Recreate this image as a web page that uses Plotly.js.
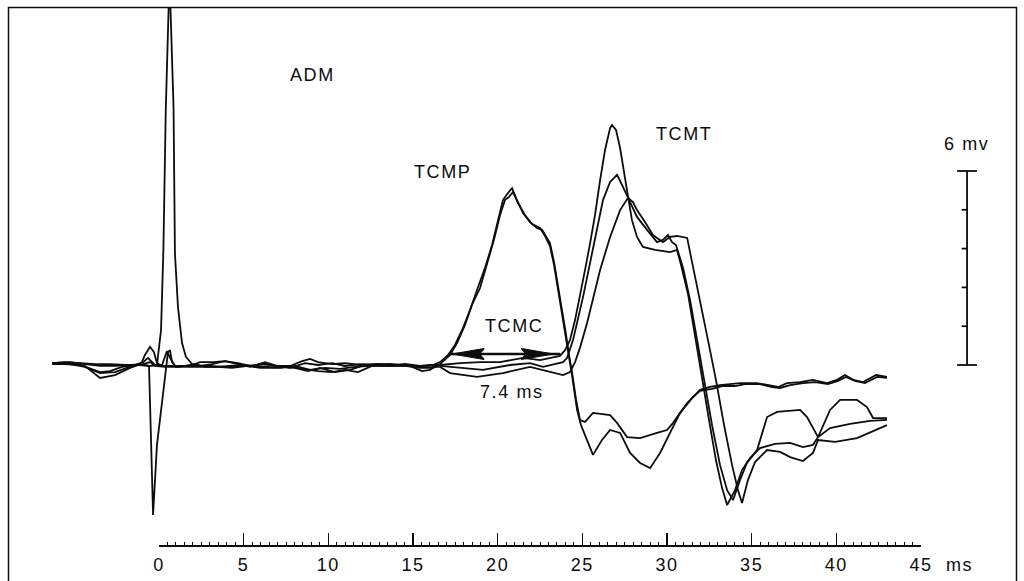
<!DOCTYPE html>
<html>
<head>
<meta charset="utf-8">
<script src="https://cdn.plot.ly/plotly-3.0.1.min.js"></script>
<style>
html,body{margin:0;padding:0;background:#fff;}
#chart{width:1024px;height:581px;}
svg text{letter-spacing:1.6px;}
</style>
</head>
<body>
<div id="chart"></div>
<script>
// ---- Data (ms, mV) ----
// TCMP traces (cervical stimulation), two superimposed recordings
const p1X = [-6.32,-5.55,-4.67,-3.78,-2.89,-2.01,-1.12,-0.53,-0.12,0.12,0.26,0.40,0.62,0.86,0.94,1.12,1.36,1.59,1.95,2.42,3.13,3.90,4.67,5.37,6.08,6.85,7.74,8.62,9.39,10.22,10.98,11.87,12.76,13.64,14.53,15.41,16.18,16.60,17.07,17.48,17.95,18.37,18.78,19.25,19.67,20.02,20.31,20.61,20.85,21.14,21.50,21.91,22.32,22.62,22.86,23.09,23.33,23.56,23.80,24.04,24.21,24.39,24.63,24.86,25.16,25.63,26.64,27.05,27.64,28.41,29.41,30.00,30.36,31.19,31.95,32.54,33.13,33.90,34.31,35.32,36.09,36.56,37.09,37.86,38.62,39.45,40.04,40.51,40.99,41.58,42.35,42.99];
const p1Y = [0.06,0.09,0.06,0.03,0.03,0,0,-0.03,0,1.08,3.56,7.89,12.0,7.95,3.46,1.79,0.68,0.25,0.03,-0.03,0.03,0.12,0.03,-0.06,0.06,-0.03,-0.09,0.06,0,0.06,-0.03,0.03,0,0.03,0,-0.06,0,0.09,0.31,0.62,1.14,1.70,2.32,3.00,3.71,4.48,5.10,5.32,5.47,5.10,4.70,4.42,4.24,4.18,3.99,3.77,3.18,2.47,1.70,0.93,0.31,-0.22,-1.08,-1.70,-1.76,-1.48,-1.55,-1.79,-2.23,-2.26,-2.10,-2.01,-1.79,-1.18,-0.77,-0.68,-0.62,-0.59,-0.56,-0.56,-0.62,-0.68,-0.56,-0.53,-0.46,-0.56,-0.46,-0.31,-0.46,-0.53,-0.31,-0.37];

const p2X = [-6.32,-5.55,-4.67,-3.96,-3.48,-2.89,-2.19,-1.42,-0.83,-0.59,-0.47,-0.35,-0.12,0.18,0.41,0.53,0.65,0.77,1.00,1.54,2.13,2.72,3.48,4.19,4.90,5.67,6.26,7.15,8.03,8.80,9.51,10.39,11.28,11.99,12.93,13.76,14.82,15.53,16.00,16.36,16.60,17.19,17.60,18.07,18.48,18.96,19.37,19.78,20.14,20.43,20.67,20.91,21.20,21.61,22.03,22.50,22.80,23.09,23.33,23.56,23.80,24.04,24.21,24.39,24.69,24.92,25.63,26.16,26.64,27.23,27.82,28.41,29.00,29.59,30.18,30.77,31.54,31.95,32.66,33.25,34.02,34.61,35.49,36.20,36.68,37.27,38.03,38.74,39.51,40.10,40.57,41.10,41.69,42.41,42.99];
const p2Y = [0.03,0.03,0,-0.12,-0.22,-0.19,-0.06,0,0,-0.03,-2.01,-4.64,-2.47,-1.08,-0.09,0.40,0.46,0.09,-0.06,-0.03,0.03,-0.06,-0.06,-0.03,0,-0.03,0.09,-0.06,-0.09,-0.19,-0.09,-0.22,-0.15,-0.03,0.03,-0.03,-0.03,-0.19,-0.15,-0.03,0.03,0.31,0.68,1.24,1.86,2.38,3.12,3.87,4.64,5.10,5.20,5.35,5.01,4.64,4.36,4.24,3.99,3.68,3.09,2.38,1.61,0.84,0.25,-0.31,-1.39,-1.86,-2.78,-2.32,-2.01,-2.10,-2.72,-3.03,-3.19,-2.72,-2.10,-1.48,-0.99,-0.80,-0.74,-0.65,-0.65,-0.59,-0.59,-0.68,-0.71,-0.62,-0.56,-0.53,-0.59,-0.49,-0.37,-0.49,-0.56,-0.37,-0.40];

// TCMT traces (cortical stimulation), three superimposed recordings
const t1X = [-6.32,-5.26,-4.37,-3.48,-2.60,-1.71,-1.06,-0.83,-0.53,-0.30,-0.12,0.18,0.94,1.83,2.42,3.19,3.90,4.67,5.37,6.08,6.85,7.74,8.45,8.92,9.39,10.22,10.98,11.87,12.76,13.64,14.53,15.41,16.00,16.60,17.78,18.96,20.14,21.50,22.50,23.27,23.68,23.98,24.27,24.57,24.86,25.16,25.46,25.75,26.05,26.34,26.64,26.75,26.99,27.23,27.52,27.70,27.93,28.23,28.58,29.29,30.18,30.59,30.83,31.25,31.66,32.07,32.48,32.89,33.25,33.55,34.02,34.43,34.90,35.49,36.38,37.27,38.03,38.62,38.92,39.63,40.81,41.99,42.99];
const t1Y = [0.06,0.06,-0.03,-0.40,-0.31,-0.09,0.03,0.31,0.56,0.40,0.06,-0.03,-0.03,-0.03,0.09,0.09,0.12,0.06,-0.03,0.03,-0.03,-0.03,0.12,0.19,0.09,0.03,0.06,0,0.03,0.03,-0.03,-0.03,0,0,0.06,0.09,0.09,0.22,0.15,0.25,0.28,0.46,0.77,1.39,2.10,2.94,3.77,4.64,5.72,6.65,7.33,7.42,7.27,6.71,5.78,5.17,4.48,3.96,3.65,3.56,3.49,3.56,3.09,2.17,0.93,-0.40,-1.70,-2.94,-3.80,-4.33,-3.87,-3.25,-2.88,-2.57,-2.44,-2.41,-2.54,-2.47,-2.23,-1.95,-1.82,-1.73,-1.70];

const t2X = [-6.32,-5.26,-4.37,-3.48,-2.60,-1.71,-0.94,-0.65,-0.41,-0.18,0.18,0.35,0.47,0.65,0.94,1.83,2.72,3.48,4.31,5.26,5.96,6.85,7.74,8.62,9.39,10.22,10.98,11.75,12.58,13.64,14.53,15.41,16.12,16.60,17.19,19.13,20.73,21.91,22.68,23.50,23.86,24.10,24.45,25.04,25.75,26.22,26.64,27.05,27.40,27.70,28.23,28.82,29.41,29.76,30.06,30.30,30.53,30.95,31.36,31.78,32.25,32.66,33.13,33.55,33.90,34.31,34.72,35.32,35.91,36.50,37.86,38.27,38.92,39.63,40.22,41.22,41.81,42.17,42.99];
const t2Y = [0.03,0.03,-0.06,-0.25,-0.22,-0.06,0.09,0.22,0.09,-0.03,0,0.28,0.43,0.22,-0.03,-0.06,-0.06,-0.06,-0.09,-0.03,-0.09,-0.09,-0.06,-0.12,-0.19,-0.22,-0.15,-0.22,-0.03,-0.03,-0.03,-0.09,-0.09,-0.03,-0.06,-0.15,0,0.06,-0.06,0.06,0.09,0.22,0.77,2.10,3.96,5.10,5.66,5.88,5.51,5.17,4.58,4.18,3.80,3.87,4.02,3.80,3.71,3.00,2.01,0.77,-0.62,-1.86,-3.09,-3.87,-4.18,-3.56,-3.03,-2.63,-1.61,-1.45,-1.39,-1.61,-2.23,-1.39,-1.08,-1.08,-1.30,-1.64,-1.64];

const t3X = [-6.32,-5.26,-4.37,-3.48,-2.60,-1.71,-0.94,-0.53,-0.24,0.35,1.24,2.13,3.01,3.90,4.78,5.67,6.38,7.15,8.03,8.92,9.80,10.69,11.57,12.46,13.64,14.53,15.41,16.12,16.60,17.19,18.78,20.31,21.91,23.09,23.86,24.27,24.57,24.86,25.28,26.05,26.64,27.23,27.70,27.99,28.23,28.70,29.17,29.76,30.18,30.59,31.19,31.48,31.95,32.42,32.89,33.37,33.84,34.19,34.43,34.78,35.20,35.91,36.68,37.27,38.03,38.62,38.92,39.93,41.22,42.35,42.99];
const t3Y = [0.06,0.09,0.03,-0.03,-0.03,0,0.03,0.09,-0.03,-0.06,-0.06,-0.03,-0.03,-0.06,-0.03,-0.03,-0.06,-0.09,-0.03,-0.15,-0.09,-0.12,-0.06,-0.03,-0.03,0.03,-0.03,-0.03,-0.06,-0.25,-0.37,-0.25,-0.06,-0.22,-0.31,-0.22,0.09,0.53,1.30,2.94,3.96,4.79,5.17,5.04,4.79,4.42,4.02,3.80,3.96,3.99,3.93,3.18,2.01,0.77,-0.46,-1.86,-3.09,-3.87,-4.27,-3.56,-3.00,-2.63,-2.69,-2.85,-2.97,-2.72,-2.32,-2.38,-2.26,-2.01,-1.86];

// Time axis ticks (ms)
const timeTicks = [0,5,10,15,20,25,30,35,40,45];
const timeTickLabels = ['0','5','10','15','20','25','30','35','40','45'];

// Calibration bar: 6 mV, subdivided in 5
const scaleBarX = 47.72;
const scaleBarMv = 6;
const scaleBarDivisions = 5;

// TCMC interval marker
const tcmcStart = 17.1;
const tcmcEnd = 23.7;
const tcmcLevel = 0.34;

// Labels: [text, x(ms), y(mV)]
const labelText = ['ADM','TCMP','TCMC','7.4 ms','TCMT','6 mv'];
const labelX = [9.09,16.77,20.96,20.85,31.0,47.66];
const labelY = [8.97,5.97,1.21,-0.84,7.15,6.84];

// ---- Build figure ----
const ink = '#0d0d0d';
const lineStyle = {color: ink, width: 1.8, shape: 'linear'};
function trace(x, y) {
  return {x: x, y: y, type: 'scatter', mode: 'lines', line: lineStyle, hoverinfo: 'skip', showlegend: false};
}
const traces = [trace(p1X,p1Y), trace(p2X,p2Y), trace(t1X,t1Y), trace(t2X,t2Y), trace(t3X,t3Y)];

// calibration bar segments
const capHalf = 0.59, subTick = 0.32;
const sbX = [scaleBarX, scaleBarX, null, scaleBarX-capHalf, scaleBarX+capHalf, null, scaleBarX-capHalf, scaleBarX+capHalf];
const sbY = [0, scaleBarMv, null, 0, 0, null, scaleBarMv, scaleBarMv];
for (let i = 1; i < scaleBarDivisions; i++) {
  const v = scaleBarMv * i / scaleBarDivisions;
  sbX.push(null, scaleBarX - subTick, scaleBarX);
  sbY.push(null, v, v);
}
traces.push({x: sbX, y: sbY, type:'scatter', mode:'lines', line:{color: ink, width: 1.8}, hoverinfo:'skip', showlegend:false, connectgaps:false});

// TCMC arrow line + heads
const headLen = 1.9, headHalf = 0.17;
traces.push({x:[tcmcStart, tcmcEnd], y:[tcmcLevel, tcmcLevel], type:'scatter', mode:'lines', line:{color: ink, width: 2.6}, hoverinfo:'skip', showlegend:false});
traces.push({x:[tcmcStart+0.2, tcmcStart+0.2+headLen, tcmcStart+0.2+headLen*0.85, tcmcStart+0.2+headLen, tcmcStart+0.2],
             y:[tcmcLevel, tcmcLevel+headHalf, tcmcLevel, tcmcLevel-headHalf, tcmcLevel],
             type:'scatter', mode:'lines', fill:'toself', fillcolor: ink, line:{color: ink, width: 1.2}, hoverinfo:'skip', showlegend:false});
traces.push({x:[tcmcEnd-0.4, tcmcEnd-0.4-headLen, tcmcEnd-0.4-headLen*0.85, tcmcEnd-0.4-headLen, tcmcEnd-0.4],
             y:[tcmcLevel, tcmcLevel+headHalf, tcmcLevel, tcmcLevel-headHalf, tcmcLevel],
             type:'scatter', mode:'lines', fill:'toself', fillcolor: ink, line:{color: ink, width: 1.2}, hoverinfo:'skip', showlegend:false});

// dummy trace for the time axis subplot
traces.push({x:[], y:[], xaxis:'x2', yaxis:'y2', type:'scatter', mode:'lines', showlegend:false, hoverinfo:'skip'});

const W = 1024, H = 581;
const pxPerMs = 762/45, pxPerMv = 194/6;
const x0px = 159, y0px = 365;
const leftPx = 9, rightPx = 1016, topPx = 8;
const font = 'Liberation Sans, Arial, Helvetica, sans-serif';

const annotations = labelText.map((t, i) => ({
  text: t, x: labelX[i], y: labelY[i], xref:'x', yref:'y', showarrow:false,
  xanchor:'center', yanchor:'middle', font:{family: font, size: 18, color: ink}
}));
annotations.push({text:'ms', x: 959/W, y: (H-565)/H, xref:'paper', yref:'paper', showarrow:false,
  xanchor:'center', yanchor:'middle', font:{family: font, size: 18, color: ink}});

const layout = {
  width: W, height: H,
  margin: {l:0, r:0, t:0, b:0, pad:0},
  paper_bgcolor:'#ffffff', plot_bgcolor:'rgba(0,0,0,0)',
  showlegend:false, hovermode:false,
  xaxis: {domain:[leftPx/W, rightPx/W], range:[(leftPx-x0px)/pxPerMs, (rightPx-x0px)/pxPerMs], visible:false, fixedrange:true},
  yaxis: {domain:[0, (H-topPx)/H], range:[(y0px-H)/pxPerMv, (y0px-topPx)/pxPerMv], visible:false, fixedrange:true},
  xaxis2: {domain:[x0px/W, 921/W], range:[0,45], anchor:'y2', side:'bottom',
    showline:true, linecolor:ink, linewidth:2, showgrid:false, zeroline:false,
    ticks:'inside', ticklen:12, tickwidth:1.6, tickcolor:ink,
    tickmode:'array', tickvals: timeTicks, ticktext: timeTickLabels,
    minor:{dtick:0.5, tick0:0, ticks:'inside', ticklen:3, tickwidth:1, tickcolor:ink, showgrid:false},
    tickfont:{family: font, size:18, color: ink}, ticklabelstandoff: 2, fixedrange:true},
  yaxis2: {domain:[(H-545)/H, 0.3], range:[0,1], anchor:'x2', visible:false, fixedrange:true},
  shapes: [{type:'rect', xref:'paper', yref:'paper', x0: 8.5/W, x1: 1016.5/W, y0: -0.05, y1: (H-7.5)/H,
            line:{color: ink, width: 1.5}, fillcolor:'rgba(0,0,0,0)', layer:'above'}],
  annotations: annotations
};

Plotly.newPlot('chart', traces, layout, {staticPlot:true, displayModeBar:false});
</script>
</body>
</html>
